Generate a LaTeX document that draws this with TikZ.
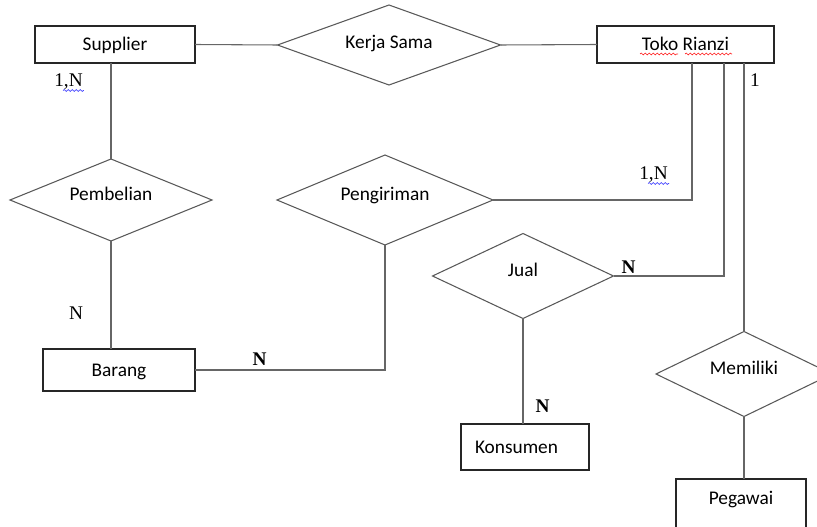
\documentclass[tikz,border=0pt]{standalone}
\usepackage{fontspec}
\setmainfont{Carlito}
\newfontfamily\cardfont{Liberation Serif}
\usepackage{tikz}
\usetikzlibrary{shapes,positioning,calc,decorations.pathmorphing}

\tikzset{
  entity/.style={rectangle, draw=black!85, line width=0.8pt, inner sep=0pt, outer sep=0pt,
    text height=10.5pt, text depth=1.5pt, font=\fontsize{14.5}{17}\selectfont},
  relation/.style={diamond, aspect=2.5, draw=black!65, line width=0.8pt, inner sep=0pt, outer sep=0pt,
    text height=10.5pt, text depth=9.75pt, font=\fontsize{14.5}{17}\selectfont},
  card/.style={inner sep=0pt, anchor=base, font=\cardfont\fontsize{14.5}{17}\selectfont},
  link/.style={draw=black!60, line width=0.8pt},
  squiggle/.style={decorate, decoration={snake, segment length=3pt, amplitude=0.7pt}, line width=0.5pt}
}

\begin{document}
\begin{tikzpicture}[x=0.75pt, y=-0.75pt]
    \useasboundingbox (0,0) rectangle (817,527);
    \clip (0,0) rectangle (817,527);

    % Entities
    \node[entity, minimum width=120pt, minimum height=27.75pt] (supplier) at (115,44.5) {Supplier};
    \node[entity, minimum width=132.75pt, minimum height=27.75pt] (toko) at (685.5,44.5) {Toko Rianzi};
    \node[entity, minimum width=114pt, minimum height=31.5pt] (barang) at (119,370) {Barang};
    \node[entity, minimum width=96pt, minimum height=34.5pt, text width=75pt, align=left, inner xsep=10.5pt] (konsumen) at (525,447) {Konsumen};
    \node[entity, anchor=north, minimum width=97.5pt, inner ysep=8.25pt, text depth=30pt] (pegawai) at (741,479) {Pegawai};

    % Relations
    \node[relation, minimum width=167.25pt, minimum height=60pt, text depth=4.5pt] (kerja) at (389,45) {Kerja Sama};
    \node[relation, minimum width=151.5pt, minimum height=61.5pt] (pembelian) at (111,200) {Pembelian};
    \node[relation, minimum width=162pt, minimum height=67.5pt] (pengiriman) at (385,200) {Pengiriman};
    \node[relation, minimum width=135.75pt, minimum height=63.75pt] (jual) at (523,276) {Jual};
    \node[relation, minimum width=132pt, minimum height=63.75pt] (memiliki) at (744,374) {Memiliki};

    % Connectors
    \draw[link] (supplier.east) -- (kerja.west);
    \draw[link] (kerja.east) -- (toko.west);
    \draw[link] (pembelian.north) -- (pembelian.north |- supplier.south);
    \draw[link] (pembelian.south) -- (pembelian.south |- barang.north);
    \draw[link] (barang.east) -| (pengiriman.south);
    \draw[link] (pengiriman.east) -| ($(toko.south)+(6.5,0)$);
    \draw[link] (jual.east) -| ($(toko.south)+(38.5,0)$);
    \draw[link] (memiliki.north) -- (memiliki.north |- toko.south);
    \draw[link] (jual.south) -- (jual.south |- konsumen.north);
    \draw[link] (memiliki.south) -- (memiliki.south |- pegawai.north);

    % Cardinalities
    \node[card] (c1) at (68.5,87) {1,N};
    \node[card] (c2) at (755,87) {1};
    \node[card] (c3) at (653.5,180) {1,N};
    \node[card] (c4) at (628.5,273) {\bfseries N};
    \node[card] (c5) at (76,319) {N};
    \node[card] (c6) at (259.5,365) {\bfseries N};
    \node[card] (c7) at (542.5,412) {\bfseries N};

    % Spell-check marks
    \draw[squiggle, blue!80] ($(c1.base east)+(-20,3.5)$) -- ($(c1.base east)+(1,3.5)$);
    \draw[squiggle, blue!80] ($(c3.base east)+(-20,3.5)$) -- ($(c3.base east)+(1,3.5)$);
    \draw[squiggle, red!85] ($(toko.center)+(-45.5,9.5)$) -- ($(toko.center)+(-7.5,9.5)$);
    \draw[squiggle, red!85] ($(toko.center)+(-0.5,9.5)$) -- ($(toko.center)+(46.5,9.5)$);
\end{tikzpicture}
\end{document}
